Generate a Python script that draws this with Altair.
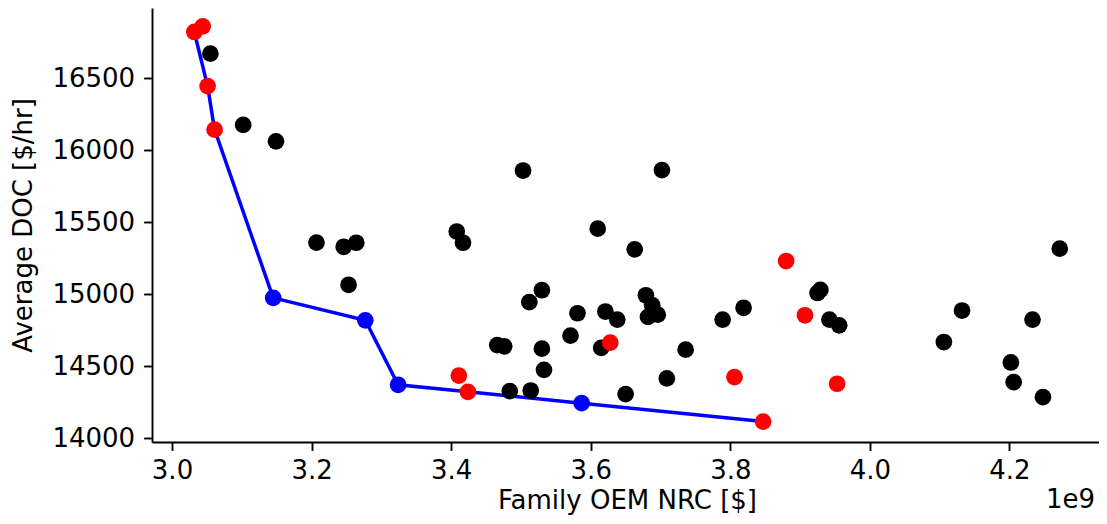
import altair as alt
import pandas as pd

# Values (x in units of 1e9 $)
black_x = [3.055, 3.102, 3.149, 3.503, 3.702, 3.207, 3.246, 3.264, 3.253, 3.408,
           3.417, 3.610, 3.663, 4.272, 3.530, 3.512, 3.581, 3.621, 3.638, 3.679,
           3.688, 3.682, 3.696, 3.789, 3.819, 3.925, 3.929, 3.942, 3.956, 4.132,
           4.106, 4.233, 4.202, 4.206, 4.248, 3.466, 3.476, 3.530, 3.571, 3.615,
           3.533, 3.736, 3.709, 3.484, 3.514, 3.650]
black_y = [16671, 16176, 16062, 15859, 15862, 15358, 15329, 15357, 15065, 15435,
           15357, 15455, 15311, 15316, 15027, 14944, 14867, 14879, 14823, 14992,
           14923, 14842, 14858, 14823, 14905, 15008, 15029, 14823, 14783, 14886,
           14667, 14823, 14525, 14388, 14284, 14646, 14637, 14621, 14711, 14626,
           14474, 14614, 14414, 14326, 14330, 14305]

red_x = [3.032, 3.044, 3.051, 3.061, 3.411, 3.424, 3.628, 3.806, 3.880, 3.907, 3.953, 3.847]
red_y = [16822, 16861, 16446, 16143, 14434, 14321, 14663, 14423, 15230, 14853, 14377, 14114]

blue_x = [3.145, 3.277, 3.324, 3.587]
blue_y = [14974, 14818, 14370, 14242]

front_x = [3.032, 3.051, 3.061, 3.145, 3.277, 3.324, 3.424, 3.587, 3.847]
front_y = [16822, 16446, 16143, 14974, 14818, 14370, 14321, 14242, 14114]

x_ticks = [3.0, 3.2, 3.4, 3.6, 3.8, 4.0, 4.2]
y_ticks = [14000, 14500, 15000, 15500, 16000, 16500]

X_TITLE = "Family OEM NRC [$]"
Y_TITLE = "Average DOC [$/hr]"
OFFSET_TEXT = "1e9"

black_df = pd.DataFrame({"x": black_x, "y": black_y})
red_df = pd.DataFrame({"x": red_x, "y": red_y})
blue_df = pd.DataFrame({"x": blue_x, "y": blue_y})
front_df = pd.DataFrame({"x": front_x, "y": front_y, "o": list(range(len(front_x)))})

FS = 26
W, H = 947, 434
MS = 280

xscale = alt.Scale(domain=[2.97134, 4.32827], nice=False, zero=False)
yscale = alt.Scale(domain=[13972.2, 16988.6], nice=False, zero=False)

xenc = alt.X("x:Q", scale=xscale,
             axis=alt.Axis(title=X_TITLE, values=x_ticks, format=".1f",
                           labelBaseline="alphabetic", labelPadding=28,
                           titleBaseline="alphabetic", titleY=66, titleX=475))
yenc = alt.Y("y:Q", scale=yscale,
             axis=alt.Axis(title=Y_TITLE, values=y_ticks, format="d",
                           labelPadding=9, titleX=-116, titleY=217,
                           titleBaseline="bottom", titleAngle=270))

line = alt.Chart(front_df).mark_line(color="#0000ff", strokeWidth=3.5).encode(
    x=xenc, y=yenc, order="o:Q")
black = alt.Chart(black_df).mark_circle(color="#000000", size=MS, opacity=1).encode(x=xenc, y=yenc)
red = alt.Chart(red_df).mark_circle(color="#ff0000", size=MS, opacity=1).encode(x=xenc, y=yenc)
blue = alt.Chart(blue_df).mark_circle(color="#0000ff", size=MS, opacity=1).encode(x=xenc, y=yenc)

offset = alt.Chart(pd.DataFrame({"t": [OFFSET_TEXT]})).mark_text(
    align="right", baseline="alphabetic", font="DejaVu Sans", fontSize=FS, color="black"
).encode(text="t:N", x=alt.value(943), y=alt.value(500))

chart = alt.layer(line, black, red, blue, offset).properties(
    width=W, height=H,
    autosize=alt.AutoSizeParams(type="none"),
    padding={"left": 144, "top": 0, "right": 0, "bottom": 74},
).configure_view(strokeWidth=0).configure_axis(
    grid=False,
    domainColor="black", domainWidth=1.9,
    tickColor="black", tickWidth=1.9, tickSize=8.4,
    labelFont="DejaVu Sans", labelFontSize=FS, labelColor="black",
    titleFont="DejaVu Sans", titleFontSize=FS, titleColor="black", titleFontWeight="normal",
    labelFlush=False, labelOverlap=False,
)

chart.save("out.html", embed_options={"renderer": "svg", "actions": False})
